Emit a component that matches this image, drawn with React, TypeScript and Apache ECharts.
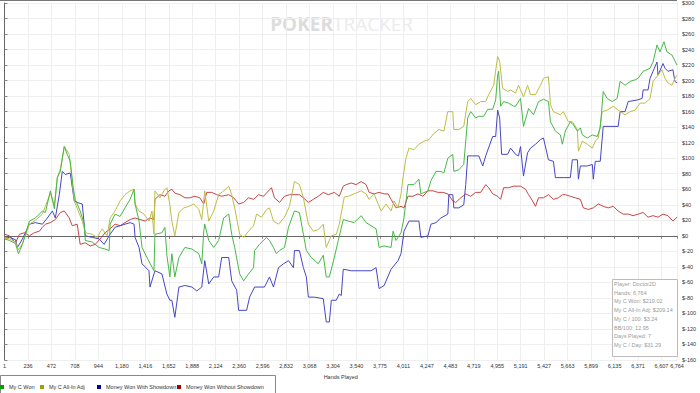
import React, { useEffect, useRef } from "react";
import * as echarts from "echarts";

const seriesNames = ["My C Won", "My C All-In Adj", "Money Won With Showdown", "Money Won Without Showdown"];
const lineColors = ["#46b846", "#bdbd45", "#4646c4", "#c84646"];
const legendColors = ["#00a000", "#a0a000", "#0000a0", "#a00000"];

// [hand, dollars]
const myCWon: [number, number][] = [
  [1,-4],[50,-6],[110,-10],[140,-23],[180,-11],[250,19],[311,23],[381,32],[411,30],[461,58],[501,35],[531,75],[561,83],[601,115],[631,105],[661,96],[691,62],[711,47],[761,32],[802,15],[812,-6],[882,-8],[952,-15],[1012,-17],[1052,-19],[1062,15],[1112,28],[1162,25],[1212,36],[1263,47],[1303,60],[1313,41],[1353,19],[1383,-15],[1433,-28],[1503,-45],[1513,2],[1583,4],[1613,11],[1633,-25],[1663,-53],[1683,-23],[1713,-53],[1754,-28],[1814,-15],[1884,-17],[1954,-23],[1984,-36],[2004,6],[2014,15],[2054,-6],[2104,-15],[2154,-6],[2204,23],[2255,28],[2285,2],[2315,-15],[2365,-49],[2405,-58],[2455,-49],[2505,-41],[2515,-19],[2565,-11],[2635,-2],[2665,-6],[2705,-15],[2735,-23],[2766,-19],[2816,-15],[2856,11],[2916,32],[2966,30],[3006,2],[3036,-19],[3086,-28],[3156,-36],[3206,-25],[3236,-53],[3267,-53],[3317,-28],[3357,-6],[3407,21],[3457,19],[3517,17],[3587,26],[3637,17],[3687,13],[3737,9],[3768,-15],[3818,-13],[3888,-15],[3908,6],[3938,-6],[3988,4],[4018,23],[4058,66],[4118,66],[4168,73],[4188,54],[4259,58],[4289,71],[4339,83],[4389,83],[4419,81],[4459,100],[4509,105],[4519,83],[4569,85],[4619,92],[4639,122],[4659,152],[4689,160],[4739,152],[4770,154],[4820,154],[4860,163],[4910,163],[4940,175],[4960,207],[4970,212],[4990,167],[5020,173],[5070,171],[5120,167],[5140,167],[5190,177],[5220,141],[5271,164],[5321,156],[5371,173],[5421,176],[5471,173],[5491,147],[5541,135],[5591,130],[5611,118],[5641,135],[5691,147],[5721,143],[5762,135],[5792,139],[5812,130],[5862,126],[5912,130],[5962,128],[5992,139],[6022,186],[6062,177],[6112,173],[6162,177],[6192,199],[6242,194],[6293,199],[6343,201],[6373,203],[6423,212],[6463,214],[6493,216],[6523,224],[6563,246],[6593,237],[6633,250],[6663,237],[6713,233],[6764,220]
];

const myCAllInAdj: [number, number][] = [
  [1,-3],[50,-4],[110,-8],[140,-18],[180,-10],[250,15],[311,20],[381,28],[461,55],[501,40],[531,75],[561,86],[601,115],[651,105],[701,45],[782,19],[812,4],[882,2],[932,-2],[982,9],[1032,0],[1062,23],[1112,32],[1162,45],[1212,53],[1263,58],[1303,60],[1313,41],[1353,32],[1403,28],[1453,19],[1483,32],[1503,2],[1513,58],[1563,49],[1603,58],[1633,62],[1663,40],[1683,19],[1713,0],[1754,30],[1804,36],[1854,38],[1904,41],[1954,34],[1984,21],[2014,58],[2054,19],[2104,32],[2154,53],[2204,58],[2255,64],[2285,53],[2315,36],[2365,2],[2405,-2],[2455,6],[2505,13],[2535,28],[2585,24],[2635,34],[2665,36],[2705,19],[2756,15],[2816,24],[2866,38],[2916,70],[2966,66],[3006,49],[3056,15],[3106,6],[3156,8],[3206,15],[3236,-15],[3287,0],[3337,2],[3367,15],[3417,50],[3457,51],[3517,54],[3587,58],[3637,54],[3667,47],[3717,54],[3758,41],[3788,32],[3838,41],[3888,32],[3918,45],[3958,36],[3988,54],[4008,75],[4038,100],[4068,113],[4118,111],[4168,118],[4218,122],[4269,124],[4319,132],[4369,137],[4419,135],[4459,160],[4509,160],[4519,137],[4569,137],[4619,141],[4659,173],[4689,177],[4739,169],[4790,173],[4840,173],[4870,182],[4920,194],[4960,231],[4980,225],[5010,190],[5060,186],[5090,188],[5140,184],[5170,194],[5220,179],[5261,194],[5291,182],[5341,182],[5391,194],[5421,203],[5471,205],[5491,169],[5521,160],[5591,156],[5621,160],[5671,147],[5711,147],[5762,137],[5772,109],[5812,122],[5862,118],[5912,113],[5942,122],[5972,126],[6012,160],[6062,162],[6122,167],[6192,160],[6242,156],[6293,160],[6343,162],[6393,171],[6443,171],[6493,177],[6523,199],[6573,207],[6613,214],[6643,203],[6673,197],[6713,194],[6743,203],[6764,207]
];

const wonWithShowdown: [number, number][] = [
  [1,-3],[50,-2],[110,-5],[130,-15],[180,-4],[250,15],[311,17],[381,15],[431,23],[481,32],[511,23],[551,53],[581,83],[611,79],[661,81],[701,45],[731,43],[782,41],[812,0],[882,-2],[952,-4],[1002,-11],[1062,2],[1112,11],[1162,13],[1212,15],[1263,17],[1303,15],[1313,-2],[1353,-15],[1383,-36],[1453,-45],[1463,-66],[1513,-45],[1583,-49],[1633,-75],[1663,-83],[1683,-83],[1713,-105],[1754,-66],[1814,-64],[1884,-66],[1934,-71],[1984,-66],[2014,-32],[2054,-62],[2104,-53],[2154,-53],[2184,-28],[2255,-28],[2285,-58],[2335,-70],[2355,-96],[2435,-96],[2465,-79],[2515,-66],[2615,-66],[2665,-53],[2705,-66],[2756,-41],[2806,-36],[2856,-32],[2906,-41],[2916,-19],[2966,-19],[3006,-41],[3036,-53],[3056,-79],[3116,-79],[3206,-81],[3236,-111],[3267,-111],[3287,-83],[3337,-83],[3367,-75],[3387,-77],[3407,-43],[3487,-45],[3587,-45],[3687,-45],[3737,-41],[3768,-68],[3818,-64],[3888,-43],[3958,-32],[3988,-23],[4018,6],[4068,19],[4168,19],[4188,-2],[4259,0],[4289,15],[4339,17],[4389,23],[4459,28],[4469,53],[4509,53],[4519,36],[4569,36],[4619,40],[4639,66],[4659,103],[4709,103],[4770,103],[4810,90],[4840,103],[4910,128],[4940,128],[4960,162],[4980,152],[5000,105],[5060,105],[5090,113],[5140,105],[5170,103],[5190,115],[5220,77],[5261,107],[5291,113],[5341,118],[5391,124],[5421,126],[5471,98],[5521,96],[5541,75],[5621,75],[5691,75],[5711,98],[5762,98],[5772,73],[5792,90],[5862,90],[5912,92],[5922,73],[5942,96],[5992,96],[6022,141],[6172,141],[6192,160],[6242,160],[6273,173],[6363,175],[6413,177],[6423,188],[6473,188],[6493,203],[6523,212],[6563,224],[6573,207],[6623,222],[6643,216],[6673,212],[6723,214],[6743,199],[6764,197]
];

const wonWithoutShowdown: [number, number][] = [
  [1,2],[50,0],[110,-9],[150,2],[200,4],[250,0],[300,4],[351,6],[381,11],[411,15],[461,17],[511,21],[561,30],[601,32],[651,23],[681,13],[731,15],[761,-11],[812,-9],[862,-13],[912,-11],[962,-4],[1012,4],[1062,9],[1112,15],[1162,13],[1212,17],[1263,21],[1313,23],[1363,21],[1413,19],[1463,23],[1503,21],[1513,47],[1563,53],[1613,51],[1653,58],[1683,60],[1713,55],[1764,53],[1814,49],[1864,49],[1914,51],[1964,49],[2004,41],[2034,56],[2084,56],[2134,53],[2184,51],[2255,53],[2305,49],[2355,41],[2405,43],[2455,49],[2505,47],[2555,53],[2605,51],[2655,58],[2685,62],[2715,49],[2766,43],[2816,51],[2866,53],[2916,53],[2966,53],[3006,49],[3056,43],[3106,47],[3156,51],[3206,56],[3257,53],[3317,56],[3367,51],[3407,64],[3437,66],[3487,68],[3537,66],[3587,70],[3637,66],[3667,56],[3717,54],[3768,56],[3818,54],[3858,54],[3888,47],[3938,36],[3988,38],[4018,36],[4058,51],[4108,51],[4158,54],[4208,51],[4259,58],[4309,58],[4359,56],[4409,56],[4459,54],[4509,45],[4539,43],[4589,49],[4639,54],[4689,51],[4739,56],[4790,56],[4840,66],[4870,62],[4910,54],[4960,51],[4990,47],[5020,62],[5070,62],[5120,64],[5190,64],[5240,60],[5271,53],[5311,45],[5341,38],[5371,49],[5421,49],[5471,53],[5521,47],[5571,49],[5611,53],[5641,53],[5691,51],[5741,49],[5792,47],[5822,36],[5872,34],[5922,36],[5972,41],[6022,38],[6072,36],[6122,38],[6172,32],[6222,28],[6273,28],[6323,26],[6373,28],[6423,30],[6473,24],[6523,26],[6573,24],[6623,28],[6673,26],[6723,19],[6764,24]
];

const seriesData = [myCWon, myCAllInAdj, wonWithShowdown, wonWithoutShowdown];

const statsLines = [
  "Player: Doctor2D",
  "Hands: 6,764",
  "My C Won: $219.02",
  "My C All-In Adj: $209.14",
  "My C / 100: $3.24",
  "BB/100: 12.95",
  "Days Played: 7",
  "My C / Day: $31.29",
];

const HANDS = 6764;
const FONT = "'Liberation Sans', Arial, sans-serif";

export default function App() {
  const ref = useRef<HTMLDivElement>(null);
  useEffect(() => {
    if (!ref.current) return;
    const chart = echarts.init(ref.current, undefined, { renderer: "svg" });
    const legendLefts = [0, 40, 97, 177];
    chart.setOption({
      animation: false,
      backgroundColor: "#ffffff",
      textStyle: { fontFamily: FONT },
      grid: { left: 2, right: 23, top: 1, bottom: 33, containLabel: false },
      legend: seriesNames.map((n, i) => ({
        data: [{ name: n, itemStyle: { color: legendColors[i] } }],
        left: legendLefts[i],
        top: 384,
        icon: "rect",
        itemWidth: 4,
        itemHeight: 4,
        padding: 0,
        selectedMode: false,
        textStyle: { fontSize: 5.5, color: "#333", fontFamily: FONT },
      })),
      xAxis: {
        type: "value",
        min: 0,
        max: HANDS,
        interval: 236,
        name: "Hands Played",
        nameLocation: "middle",
        nameGap: 11,
        nameTextStyle: { fontSize: 5.5, color: "#333", fontFamily: FONT },
        axisLine: { show: true, lineStyle: { color: "#666", width: 1 } },
        axisTick: { show: true, length: 3, lineStyle: { color: "#888" } },
        axisLabel: {
          fontSize: 5.5,
          color: "#333",
          margin: 3,
          showMaxLabel: true,
          showMinLabel: true,
          formatter: (v: number) => {
            if (v === 0) return "1";
            const n = v > 3540 && v < HANDS ? v - 1 : v;
            return n.toLocaleString("en-US");
          },
        },
        splitLine: { show: true, lineStyle: { color: "#efefef", width: 1 } },
      },
      yAxis: {
        type: "value",
        position: "right",
        min: -160,
        max: 300,
        interval: 20,
        axisLine: { show: true, lineStyle: { color: "#666", width: 1 } },
        axisTick: { show: true, length: 3, lineStyle: { color: "#888" } },
        axisLabel: {
          fontSize: 5.5,
          color: "#333",
          margin: 5,
          formatter: (v: number) => "$" + v,
        },
        splitLine: { show: true, lineStyle: { color: "#efefef", width: 1 } },
      },
      series: seriesNames.map((n, i) => ({
        name: n,
        type: "line",
        data: seriesData[i],
        showSymbol: false,
        symbol: "none",
        color: legendColors[i],
        lineStyle: { color: lineColors[i], width: 1 },
        z: 10 - i,
        markLine:
          i === 0
            ? {
                silent: true,
                symbol: ["none", "none"],
                label: { show: false },
                lineStyle: { color: "#666", width: 1, type: "solid" },
                data: [{ yAxis: 0 }],
              }
            : undefined,
      })),
      graphic: [
        {
          type: "line",
          shape: { x1: 0, y1: 0.5, x2: 677, y2: 0.5 },
          style: { stroke: "#777", lineWidth: 1 },
          silent: true,
        },
        {
          type: "text",
          x: 333,
          y: 24,
          style: {
            text: "POKER",
            align: "right",
            verticalAlign: "middle",
            font: "bold 19px 'Open Sans', sans-serif",
            fill: "#dcdcdc",
          },
          silent: true,
          z: 0,
        },
        {
          type: "text",
          x: 333,
          y: 24,
          style: {
            text: "TRACKER",
            align: "left",
            verticalAlign: "middle",
            font: "normal 19px 'Open Sans', sans-serif",
            fill: "#ececec",
          },
          silent: true,
          z: 0,
        },
        {
          type: "rect",
          shape: { x: 0.5, y: 375.5, width: 275, height: 20 },
          style: { fill: "none", stroke: "#888", lineWidth: 1 },
          silent: true,
        },
        {
          type: "rect",
          z: 100,
          silent: true,
          shape: { x: 612.5, y: 279.5, width: 65, height: 77 },
          style: { fill: "#ffffff", stroke: "#bbbbbb", lineWidth: 1 },
        },
        ...statsLines.map((t, i) => ({
          type: "text",
          z: 101,
          silent: true,
          x: 614,
          y: 281 + i * 8.7,
          style: {
            text: t,
            fill: "#9a9a9a",
            font: `5.5px ${FONT}`,
            verticalAlign: "top",
            align: "left",
          },
        })),
      ],
    });
    return () => chart.dispose();
  }, []);
  return (
    <div
      ref={ref}
      style={{ position: "absolute", left: 0, top: 0, width: 700, height: 393 }}
    />
  );
}
